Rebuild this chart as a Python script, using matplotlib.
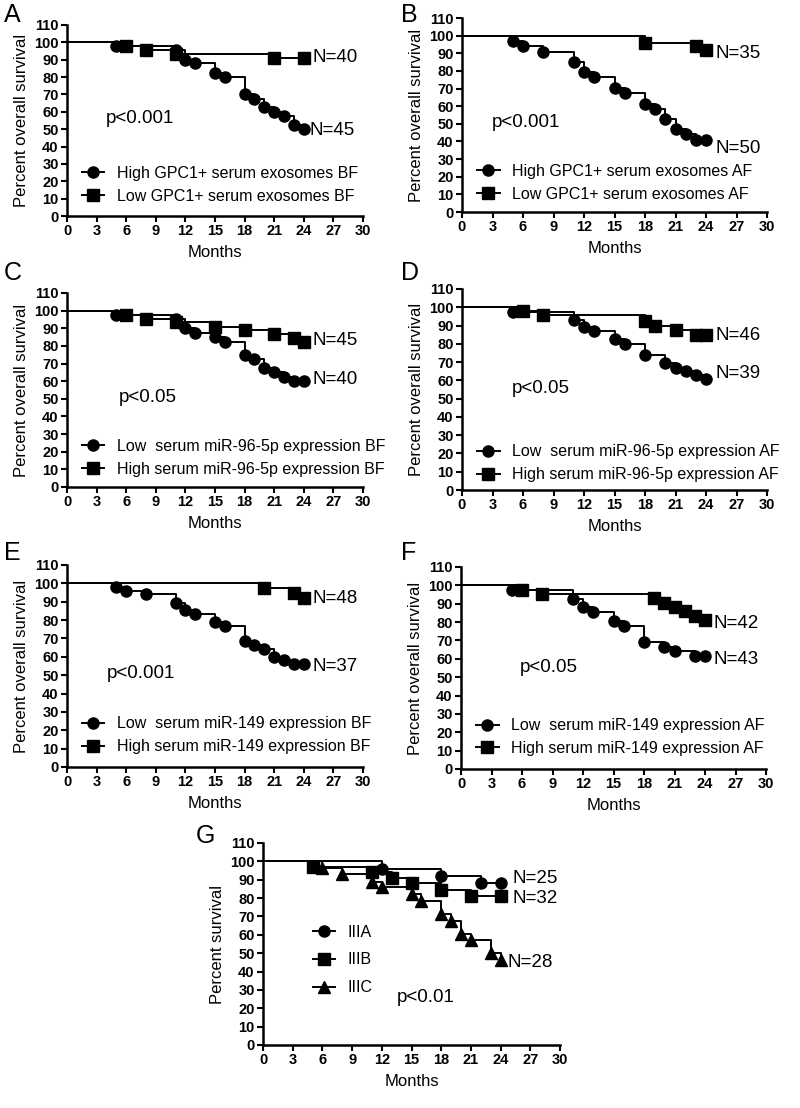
import matplotlib
matplotlib.use("Agg")
import matplotlib.pyplot as plt
import numpy as np

plt.rcParams['font.family'] = ['Liberation Sans', 'DejaVu Sans']

# ---- data (months of event, survival % after event) ----
a_hi_t = [5, 11, 12, 13, 15, 16, 18, 19, 20, 21, 22, 23, 24]
a_hi_s = [97.8, 95.5, 90, 88, 82.5, 80, 70, 67.5, 62.5, 60, 57.5, 52.5, 50]
a_lo_t = [6, 8, 11, 21, 24]
a_lo_s = [97.8, 95.5, 93.3, 91, 91]

b_hi_t = [5, 6, 8, 11, 12, 13, 15, 16, 18, 19, 20, 21, 22, 23, 24]
b_hi_s = [97, 94, 91, 85.3, 79.5, 76.5, 70.5, 67.5, 61.5, 58.5, 53, 47, 44, 41, 41]
b_lo_t = [18, 23, 24]
b_lo_s = [96, 94, 92]

c_lo_t = [5, 11, 12, 13, 15, 16, 18, 19, 20, 21, 22, 23, 24]
c_lo_s = [97.5, 95.5, 90, 87.5, 85, 82.5, 75, 72.5, 67.5, 65, 62.5, 60, 60]
c_hi_t = [6, 8, 11, 15, 18, 21, 23, 24]
c_hi_s = [97.8, 95.5, 93.3, 91, 88.9, 86.7, 84.4, 82.2]

d_lo_t = [5, 11, 12, 13, 15, 16, 18, 20, 21, 22, 23, 24]
d_lo_s = [97.5, 93, 89, 87, 82.5, 80, 74, 69.5, 67, 65, 63, 61]
d_hi_t = [6, 8, 18, 19, 21, 23, 24]
d_hi_s = [97.8, 95.5, 92.5, 90, 87.5, 85, 85]

e_lo_t = [5, 6, 8, 11, 12, 13, 15, 16, 18, 19, 20, 21, 22, 23, 24]
e_lo_s = [98, 96, 94, 89.5, 85.5, 83.5, 79, 77, 68.5, 66.5, 64.5, 60, 58, 56, 56]
e_hi_t = [20, 23, 24]
e_hi_s = [97.5, 95, 92]

f_lo_t = [5, 11, 12, 13, 15, 16, 18, 20, 21, 23, 24]
f_lo_s = [97.5, 92.5, 88, 85.5, 80.5, 78, 69, 66.5, 64, 61.5, 61.5]
f_hi_t = [6, 8, 19, 20, 21, 22, 23, 24]
f_hi_s = [97.5, 95.5, 93, 90.5, 88, 86, 83.5, 81]

g_a_t = [12, 18, 22, 24]
g_a_s = [96, 92, 88, 88]
g_b_t = [5, 11, 13, 15, 18, 21, 24]
g_b_s = [97, 94, 91, 88, 84.5, 81, 81]
g_c_t = [6, 8, 11, 12, 15, 16, 18, 19, 20, 21, 23, 24]
g_c_s = [96.5, 93, 89, 86, 82, 78.5, 71.5, 67.5, 60.5, 57, 50, 46.5]

x_ticks = list(range(0, 31, 3))
y_ticks = list(range(0, 111, 10))

W, H = 800, 1108
fig = plt.figure(figsize=(W / 100, H / 100), dpi=100)


def make_ax(x0, x1, ytop, ybot):
    # pixel box -> figure coords
    ax = fig.add_axes([x0 / W, 1 - ybot / H, (x1 - x0) / W, (ybot - ytop) / H])
    ax.set_xlim(0, 30)
    ax.set_ylim(0, 110)
    ax.set_xticks(x_ticks, labels=[str(v) for v in x_ticks], fontweight='bold')
    ax.set_yticks(y_ticks, labels=[str(v) for v in y_ticks], fontweight='bold')
    for s in ['top', 'right']:
        ax.spines[s].set_visible(False)
    for s in ['left', 'bottom']:
        ax.spines[s].set_linewidth(1.8)
    ax.tick_params(width=1.5, length=4, labelsize=10.5, pad=2)
    ax.set_xlabel('Months', fontsize=12, labelpad=5)
    return ax


def km(ax, t, s, marker, label):
    ax.step([0] + t, [100] + s, where='post', color='k', lw=1.4,
            marker=marker, ms=8, markevery=slice(1, None), label=label,
            clip_on=False)


def legend(ax, y):
    ax.legend(loc='center left', bbox_to_anchor=(0.05, y), frameon=False,
              fontsize=11.5, handlelength=1.4, handletextpad=0.8,
              labelspacing=0.5, borderpad=0, borderaxespad=0, numpoints=1)


def letter(txt, x, y):
    fig.text(x / W, 1 - y / H, txt, fontsize=18, va='top', ha='left')


# A
ax = make_ax(67, 363, 25, 216)
km(ax, a_hi_t, a_hi_s, 'o', 'High GPC1+ serum exosomes BF')
km(ax, a_lo_t, a_lo_s, 's', 'Low GPC1+ serum exosomes BF')
ax.set_ylabel('Percent overall survival', fontsize=12)
ax.text(3.9, 56, 'p<0.001', fontsize=13.5, va='center')
ax.text(24.9, 91, 'N=40', fontsize=13.5, va='center')
ax.text(24.6, 49.5, 'N=45', fontsize=13.5, va='center')
legend(ax, 0.163)
letter('A', 4, 3)

# B
ax = make_ax(462, 767, 18, 212)
km(ax, b_hi_t, b_hi_s, 'o', 'High GPC1+ serum exosomes AF')
km(ax, b_lo_t, b_lo_s, 's', 'Low GPC1+ serum exosomes AF')
ax.set_ylabel('Percent overall survival', fontsize=12)
ax.text(2.95, 50.5, 'p<0.001', fontsize=13.5, va='center')
ax.text(24.9, 90, 'N=35', fontsize=13.5, va='center')
ax.text(24.9, 36, 'N=50', fontsize=13.5, va='center')
legend(ax, 0.15)
letter('B', 401, 3)

# C
ax = make_ax(67, 363, 293, 487)
km(ax, c_lo_t, c_lo_s, 'o', 'Low  serum miR-96-5p expression BF')
km(ax, c_hi_t, c_hi_s, 's', 'High serum miR-96-5p expression BF')
ax.set_ylabel('Percent overall survival', fontsize=12)
ax.text(5.2, 51, 'p<0.05', fontsize=13.5, va='center')
ax.text(24.9, 83.3, 'N=45', fontsize=13.5, va='center')
ax.text(24.9, 60.7, 'N=40', fontsize=13.5, va='center')
legend(ax, 0.15)
letter('C', 4, 261)

# D
ax = make_ax(462, 767, 289, 490)
km(ax, d_lo_t, d_lo_s, 'o', 'Low  serum miR-96-5p expression AF')
km(ax, d_hi_t, d_hi_s, 's', 'High serum miR-96-5p expression AF')
ax.set_ylabel('Percent overall survival', fontsize=12)
ax.text(4.9, 55.8, 'p<0.05', fontsize=13.5, va='center')
ax.text(24.9, 84.8, 'N=46', fontsize=13.5, va='center')
ax.text(24.9, 64, 'N=39', fontsize=13.5, va='center')
legend(ax, 0.132)
letter('D', 401, 261)

# E
ax = make_ax(67, 363, 565, 767)
km(ax, e_lo_t, e_lo_s, 'o', 'Low  serum miR-149 expression BF')
km(ax, e_hi_t, e_hi_s, 's', 'High serum miR-149 expression BF')
ax.set_ylabel('Percent overall survival', fontsize=12)
ax.text(4.0, 51, 'p<0.001', fontsize=13.5, va='center')
ax.text(24.9, 91.5, 'N=48', fontsize=13.5, va='center')
ax.text(24.9, 54.5, 'N=37', fontsize=13.5, va='center')
legend(ax, 0.156)
letter('E', 4, 541)

# F
ax = make_ax(461, 766, 567, 769)
km(ax, f_lo_t, f_lo_s, 'o', 'Low  serum miR-149 expression AF')
km(ax, f_hi_t, f_hi_s, 's', 'High serum miR-149 expression AF')
ax.set_ylabel('Percent overall survival', fontsize=12)
ax.text(5.8, 55, 'p<0.05', fontsize=13.5, va='center')
ax.text(24.8, 79.5, 'N=42', fontsize=13.5, va='center')
ax.text(24.8, 59.4, 'N=43', fontsize=13.5, va='center')
legend(ax, 0.158)
letter('F', 401, 541)

# G
ax = make_ax(263, 560, 843, 1045)
km(ax, g_a_t, g_a_s, 'o', 'IIIA')
km(ax, g_b_t, g_b_s, 's', 'IIIB')
km(ax, g_c_t, g_c_s, '^', 'IIIC')
ax.set_ylabel('Percent survival', fontsize=12)
ax.text(13.5, 26, 'p<0.01', fontsize=13.5, va='center')
ax.text(25.2, 90.4, 'N=25', fontsize=13.5, va='center')
ax.text(25.2, 80, 'N=32', fontsize=13.5, va='center')
ax.text(24.7, 45, 'N=28', fontsize=13.5, va='center')
ax.legend(loc='center left', bbox_to_anchor=(5 / 30, 46.3 / 110), frameon=False,
          fontsize=11.5, handlelength=1.4, handletextpad=0.8,
          labelspacing=0.8, borderpad=0, borderaxespad=0, numpoints=1)
letter('G', 196, 824)

fig.savefig('out.png', dpi=100)
